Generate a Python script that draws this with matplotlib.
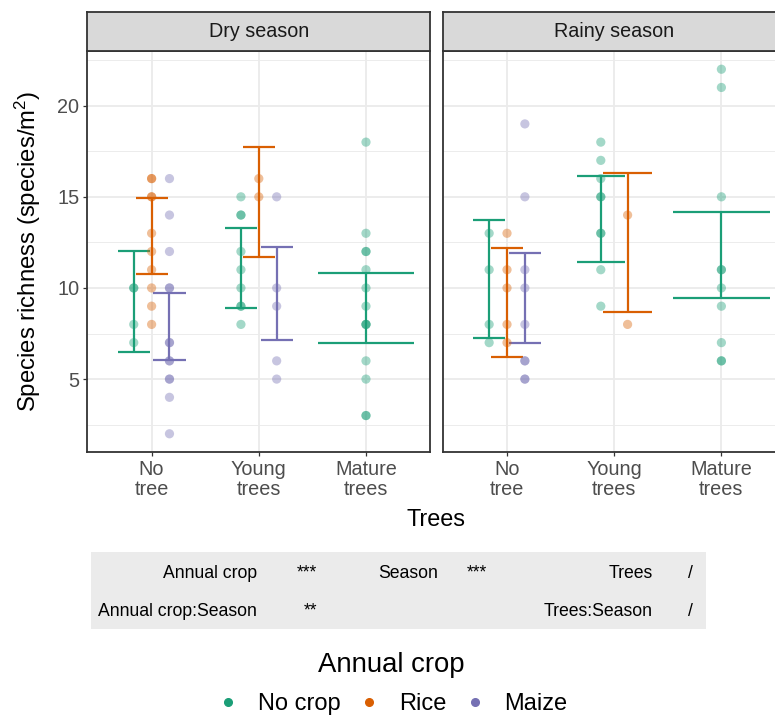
import matplotlib
matplotlib.use("Agg")
import matplotlib.pyplot as plt
from matplotlib.patches import Rectangle
from matplotlib.lines import Line2D

plt.rcParams['font.family'] = ['Liberation Sans', 'DejaVu Sans']
plt.rcParams['mathtext.fontset'] = 'custom'
plt.rcParams['mathtext.rm'] = 'Liberation Sans'
plt.rcParams['mathtext.it'] = 'Liberation Sans:italic'

# ---------------- data ----------------
seasons = ["Dry season", "Rainy season"]
tree_labels = ["No\ntree", "Young\ntrees", "Mature\ntrees"]
crops = ["No crop", "Rice", "Maize"]
crop_colors = ["#1B9E77", "#D95F02", "#7570B3"]

# observed richness per tree level (No tree, Young trees, Mature trees); None = absent
dry_nocrop_pts = [[10, 10, 8, 7], [15, 14, 14, 12, 11, 10, 9, 9, 8],
                  [18, 13, 12, 12, 11, 10, 9, 8, 8, 8, 6, 5, 3, 3]]
dry_rice_pts = [[16, 16, 15, 15, 13, 12, 11, 10, 9, 8], [16, 15], None]
dry_maize_pts = [[16, 14, 12, 10, 10, 7, 7, 6, 6, 5, 5, 4, 2], [15, 10, 9, 6, 5], None]
rainy_nocrop_pts = [[13, 11, 8, 7], [18, 17, 16, 15, 15, 13, 13, 11, 9],
                    [22, 21, 15, 11, 11, 10, 9, 7, 6, 6]]
rainy_rice_pts = [[13, 11, 10, 8, 7], [14, 8], None]
rainy_maize_pts = [[19, 15, 11, 10, 8, 6, 6, 5, 5], None, None]

# error bars (lower, upper) per tree level
dry_nocrop_low = [6.5, 8.88, 7.0]
dry_nocrop_high = [12.0, 13.3, 10.84]
dry_rice_low = [10.77, 11.68, None]
dry_rice_high = [14.95, 17.73, None]
dry_maize_low = [6.05, 7.14, None]
dry_maize_high = [9.7, 12.27, None]
rainy_nocrop_low = [7.25, 11.45, 9.45]
rainy_nocrop_high = [13.74, 16.12, 14.14]
rainy_rice_low = [6.23, 8.66, None]
rainy_rice_high = [12.18, 16.3, None]
rainy_maize_low = [6.96, None, None]
rainy_maize_high = [11.92, None, None]

season_pts = [[dry_nocrop_pts, dry_rice_pts, dry_maize_pts],
              [rainy_nocrop_pts, rainy_rice_pts, rainy_maize_pts]]
season_low = [[dry_nocrop_low, dry_rice_low, dry_maize_low],
              [rainy_nocrop_low, rainy_rice_low, rainy_maize_low]]
season_high = [[dry_nocrop_high, dry_rice_high, dry_maize_high],
               [rainy_nocrop_high, rainy_rice_high, rainy_maize_high]]

table_row1 = ["Annual crop", "***", "Season", "***", "Trees", "/"]
table_row2 = ["Annual crop:Season", "**", "", "", "Trees:Season", "/"]

# ---------------- figure ----------------
W, H = 775, 719
fig = plt.figure(figsize=(W / 100, H / 100), dpi=100)

panel_w = 343
panel_top, panel_bot = 51, 452
panel_lefts = [87.3, 442.7]
edge = "#333333"

for si, season in enumerate(seasons):
    x0 = panel_lefts[si]
    ax = fig.add_axes([x0 / W, 1 - panel_bot / H, panel_w / W, (panel_bot - panel_top) / H])
    ax.set_xlim(0.4, 3.6)
    ax.set_ylim(1.0, 23.0)
    ax.set_facecolor("white")
    ax.set_yticks([5, 10, 15, 20])
    ax.set_yticks([2.5, 7.5, 12.5, 17.5, 22.5], minor=True)
    ax.set_xticks([1, 2, 3])
    ax.set_xticklabels(tree_labels, linespacing=1.08)
    ax.grid(which="major", color="#ebebeb", lw=1.3, zorder=0)
    ax.grid(which="minor", axis="y", color="#ebebeb", lw=0.65, zorder=0)
    ax.set_axisbelow(True)
    for sp in ax.spines.values():
        sp.set_color(edge)
        sp.set_linewidth(1.3)
    ax.tick_params(axis="both", which="major", direction="out", length=3.2, width=0.9,
                   color=edge, labelcolor="#4d4d4d", labelsize=14.3, pad=2.5)
    ax.tick_params(axis="y", which="minor", length=0)
    if si == 1:
        ax.tick_params(axis="y", which="both", left=False, labelleft=False)

    pts = season_pts[si]
    lows = season_low[si]
    highs = season_high[si]
    for ti in range(3):
        present = [ci for ci in range(3) if pts[ci][ti] is not None]
        n = len(present)
        for j, ci in enumerate(present):
            xc = (ti + 1) + (j - (n - 1) / 2) * (0.5 / n)
            half = 0.9 / n / 2
            lo, hi = lows[ci][ti], highs[ci][ti]
            col = crop_colors[ci]
            ax.vlines(xc, lo, hi, color=col, lw=1.6, zorder=2)
            ax.hlines([lo, hi], xc - half, xc + half, color=col, lw=1.6, zorder=2)
            vals = pts[ci][ti]
            ax.scatter([xc] * len(vals), vals, s=44, color=col, alpha=0.4,
                       edgecolors="none", zorder=3)

    # strip
    sax = fig.add_axes([x0 / W, 1 - panel_top / H, panel_w / W, 39.3 / H])
    sax.set_facecolor("#d9d9d9")
    sax.set_xticks([])
    sax.set_yticks([])
    for sp in sax.spines.values():
        sp.set_color(edge)
        sp.set_linewidth(1.3)
    sax.text(0.5, 0.5, season, transform=sax.transAxes, ha="center", va="center",
             fontsize=14.2, color="#1a1a1a")

# axis titles
fig.text(436 / W, 1 - 520 / H, "Trees", ha="center", va="center", fontsize=16.9, color="black")
fig.text(28 / W, 1 - 251 / H, r"Species richness (species/m$^2$)", ha="center", va="center",
         rotation=90, fontsize=17.2, color="black")

# significance table
fig.patches.append(Rectangle((91 / W, 1 - 629 / H), 615 / W, 77 / H, transform=fig.transFigure,
                             facecolor="#ebebeb", edgecolor="none", zorder=0))
col_right = [257, 317, 438, 487, 653, 693]
for row, yc in ((table_row1, 573), (table_row2, 611)):
    for txt, xr in zip(row, col_right):
        if txt:
            fig.text(xr / W, 1 - yc / H, txt, ha="right", va="center", fontsize=12.7, color="black")

# legend
fig.text(391 / W, 1 - 665 / H, "Annual crop", ha="center", va="center", fontsize=19.8, color="black")
handles = [Line2D([], [], marker="o", ls="", color=c, markersize=5.5) for c in crop_colors]
leg = fig.legend(handles, crops, loc="center", bbox_to_anchor=(392 / W, 1 - 704 / H), ncol=3,
                 frameon=False, fontsize=17.0,
                 handlelength=1.0, handletextpad=0.75, columnspacing=0.72,
                 borderpad=0.2)

fig.savefig("out.png", dpi=100)
